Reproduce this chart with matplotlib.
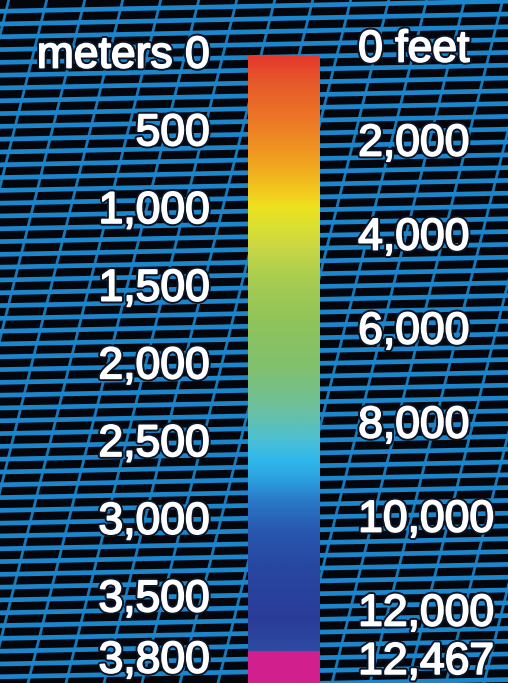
import numpy as np
import matplotlib
matplotlib.use("Agg")
import matplotlib.pyplot as plt
from matplotlib.colors import LinearSegmentedColormap
import matplotlib.patheffects as pe
import matplotlib.transforms as mtransforms

# ---- data ----
depth_stops_m = [0, 155, 412, 669, 862, 959, 1087, 1248, 1441, 1699, 2021,
                 2278, 2471, 2600, 2728, 2857, 3050, 3307, 3629, 3830, 3836, 4035]
stop_colors = ["#e4382c", "#e6582a", "#ec7826", "#f0a020", "#f2c81e", "#eee01e",
               "#dce030", "#c6d646", "#a8cc52", "#90c45a", "#80c070", "#6cc0a0",
               "#4cc0d4", "#30b8ea", "#2ca0e0", "#2a7ac8", "#2858b0", "#2846a0",
               "#2a3c98", "#2c4ca2", "#d2208e", "#d2208e"]
meter_ticks = [0, 500, 1000, 1500, 2000, 2500, 3000, 3500]
meter_labels = ["meters 0", "500", "1,000", "1,500", "2,000", "2,500", "3,000", "3,500"]
feet_ticks = [0, 2000, 4000, 6000, 8000, 10000, 12000]
feet_labels = ["0 feet", "2,000", "4,000", "6,000", "8,000", "10,000", "12,000"]
max_depth_m = 3800
max_depth_ft = 12467
m_range = (-13, 4035)      # axis limits (top, bottom) in meters
ft_range = (85, 13468)     # axis limits (top, bottom) in feet

W, H, DPI = 508, 683, 100
fig = plt.figure(figsize=(W / DPI, H / DPI), dpi=DPI)
fig.patch.set_facecolor("#04060c")

# ---- background mesh (decoration) ----
bg = fig.add_axes([0, 0, 1, 1])
bg.set_xlim(0, W)
bg.set_ylim(H, 0)
bg.axis("off")
bg.set_facecolor("#04060c")
blue = "#1b86cc"
for y0 in np.arange(-40, H + 60, 12.8):
    bg.plot([0, W], [y0, y0 - 10], color=blue, lw=3.4, solid_capstyle="butt")
for x0 in np.arange(-200, W + 60, 38):
    bg.plot([x0, x0 + 0.25 * H], [H, 0], color=blue, lw=2.0, alpha=0.9)

# ---- colour bar ----
cmap = LinearSegmentedColormap.from_list(
    "depth",
    [((d - depth_stops_m[0]) / (depth_stops_m[-1] - depth_stops_m[0]), c)
     for d, c in zip(depth_stops_m, stop_colors)], N=1024)

x0, x1 = 248 / W, 320 / W
top_px = 54
ax = fig.add_axes([x0, 0, x1 - x0, (H - top_px) / H])
grad = np.linspace(depth_stops_m[0], depth_stops_m[-1], 800).reshape(-1, 1)
ax.imshow(grad, aspect="auto", cmap=cmap,
          extent=[0, 1, depth_stops_m[-1], depth_stops_m[0]],
          vmin=depth_stops_m[0], vmax=depth_stops_m[-1], interpolation="bilinear")
ax.set_xlim(0, 1)
ax.set_ylim(m_range[1], m_range[0])
ax.axis("off")

ax2 = ax.twinx()
ax2.set_ylim(ft_range[1], ft_range[0])
ax2.axis("off")

font = dict(family=["Liberation Sans", "DejaVu Sans"], fontsize=32,
            fontweight="normal", color="white")
halo = [pe.withStroke(linewidth=4, foreground="#0a1426"),
        pe.withStroke(linewidth=1.3, foreground="white")]

tr_l = mtransforms.blended_transform_factory(ax.transAxes, ax.transData)
for v, lab in zip(meter_ticks, meter_labels):
    ax.text(-0.53, v, lab, transform=tr_l, ha="right", va="center",
            path_effects=halo, clip_on=False, **font)
ax.annotate(f"{max_depth_m:,}", xy=(-0.53, max_depth_m), xycoords=tr_l,
            xytext=(0, -10.5), textcoords="offset points", ha="right", va="center",
            path_effects=halo, annotation_clip=False, **font)

tr_r = mtransforms.blended_transform_factory(ax2.transAxes, ax2.transData)
for v, lab in zip(feet_ticks, feet_labels):
    ax2.text(1.53, v, lab, transform=tr_r, ha="left", va="center",
             path_effects=halo, clip_on=False, **font)
ax2.annotate(f"{max_depth_ft:,}", xy=(1.53, max_depth_ft), xycoords=tr_r,
             xytext=(0, -19), textcoords="offset points", ha="left", va="center",
             path_effects=halo, annotation_clip=False, **font)

fig.savefig("out.png", dpi=DPI, facecolor=fig.get_facecolor())
